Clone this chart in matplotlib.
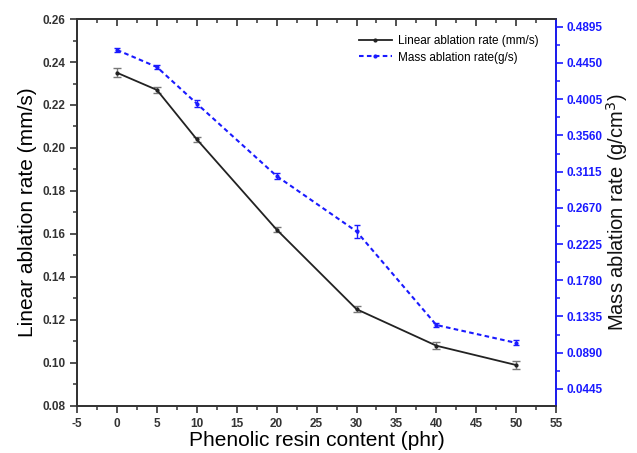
import numpy as np
import matplotlib
matplotlib.use("Agg")
import matplotlib.pyplot as plt
from matplotlib.lines import Line2D
from matplotlib.ticker import MultipleLocator, FixedLocator

plt.rcParams['font.family'] = ['Liberation Sans', 'DejaVu Sans']
plt.rcParams['axes.unicode_minus'] = False

# Data
content = [0, 5, 10, 20, 30, 40, 50]
linear_rate = [0.235, 0.227, 0.204, 0.162, 0.125, 0.108, 0.099]
linear_err = [0.0022, 0.0015, 0.0012, 0.0012, 0.0015, 0.0015, 0.0020]
mass_rate = [0.461, 0.440, 0.395, 0.306, 0.238, 0.123, 0.101]
mass_err = [0.003, 0.003, 0.004, 0.004, 0.008, 0.003, 0.003]

right_ticks = [0.0445, 0.0890, 0.1335, 0.1780, 0.2225, 0.2670, 0.3115, 0.3560, 0.4005, 0.4450, 0.4895]
blue = '#1a1aff'
dash = (0, (2.2, 1.6))

fig = plt.figure(figsize=(6.37, 4.53), dpi=100)
ax = fig.add_axes([0.121, 0.104, 0.752, 0.854])
ax2 = ax.twinx()

ax.errorbar(content, linear_rate, yerr=linear_err, color='#222222', lw=1.3,
            marker='o', ms=2, ecolor='#777777', elinewidth=1, capsize=3)
ax2.errorbar(content, mass_rate, yerr=mass_err, color=blue, lw=1.5,
             ls=dash, marker='o', ms=2, ecolor=blue, elinewidth=1, capsize=2.5)

ax.set_xlim(-5, 55)
ax.set_ylim(0.08, 0.26)
ax2.set_ylim(0.0236, 0.499)

ax.xaxis.set_major_locator(MultipleLocator(5))
ax.xaxis.set_minor_locator(MultipleLocator(2.5))
ax.yaxis.set_major_locator(MultipleLocator(0.02))
ax.yaxis.set_minor_locator(MultipleLocator(0.01))
ax.yaxis.set_major_formatter(plt.FormatStrFormatter('%.2f'))
ax2.yaxis.set_major_locator(FixedLocator(right_ticks))
ax2.yaxis.set_minor_locator(FixedLocator([t + 0.02225 for t in right_ticks]))
ax2.yaxis.set_major_formatter(plt.FormatStrFormatter('%.4f'))

for a in (ax, ax2):
    for s in a.spines.values():
        s.set_linewidth(1.3)
        s.set_color('#333333')
ax2.spines['right'].set_color(blue)

ax.tick_params(axis='both', which='major', direction='out', length=5, width=1.2,
               labelsize=8.5, colors='#333333')
ax.tick_params(axis='both', which='minor', direction='out', length=3, width=1.1, colors='#333333')
ax.tick_params(axis='x', which='both', top=True)
for lbl in ax.get_xticklabels() + ax.get_yticklabels():
    lbl.set_fontweight('bold')

ax2.tick_params(axis='y', which='major', direction='out', length=5, width=1.2,
                labelsize=8.5, colors=blue, pad=2.5)
ax2.tick_params(axis='y', which='minor', direction='out', length=3, width=1.1, colors=blue)
for lbl in ax2.get_yticklabels():
    lbl.set_fontweight('bold')

# top ticks point inwards
for t in ax.xaxis.get_major_ticks() + ax.xaxis.get_minor_ticks():
    t.tick2line.set_marker(3)

ax.set_xlabel('Phenolic resin content (phr)', fontsize=15, labelpad=1)
ax.set_ylabel('Linear ablation rate (mm/s)', fontsize=15, labelpad=4)
ax2.set_ylabel('Mass ablation rate (g/cm$^3$)', fontsize=14.5, labelpad=1, color='#111111')

handles = [Line2D([], [], color='#222222', lw=1.3, marker='o', ms=2),
           Line2D([], [], color=blue, lw=1.5, ls=dash, marker='o', ms=2)]
labels = ['Linear ablation rate (mm/s)', 'Mass ablation rate(g/s)']
ax.legend(handles, labels, loc='upper right', bbox_to_anchor=(0.985, 0.985),
          frameon=False, fontsize=8.5, handlelength=2.8, handletextpad=0.5,
          labelspacing=0.35)

fig.savefig('out.png', dpi=100)
